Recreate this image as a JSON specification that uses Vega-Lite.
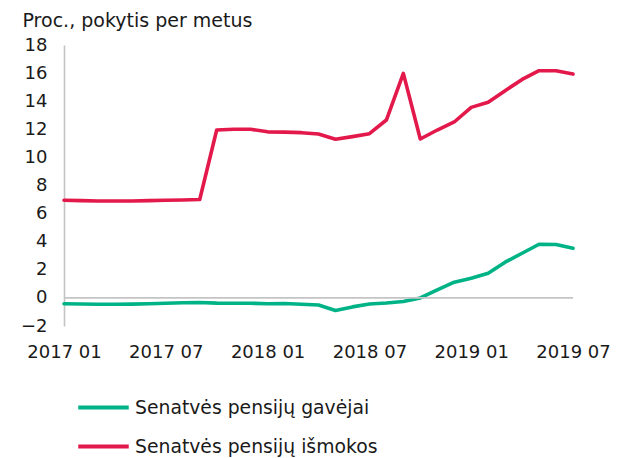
{
  "$schema": "https://vega.github.io/schema/vega-lite/v6.json",
  "width": 509,
  "height": 281,
  "autosize": {"type": "none"},
  "padding": {"left": 64, "top": 45, "right": 45, "bottom": 132},
  "background": "white",
  "config": {"view": {"stroke": null}, "font": "DejaVu Sans"},
  "datasets": {
    "series": [
      {"month": "2017-01", "series": "Senatvės pensijų gavėjai", "value": -0.42},
      {"month": "2017-02", "series": "Senatvės pensijų gavėjai", "value": -0.43},
      {"month": "2017-03", "series": "Senatvės pensijų gavėjai", "value": -0.45},
      {"month": "2017-04", "series": "Senatvės pensijų gavėjai", "value": -0.45},
      {"month": "2017-05", "series": "Senatvės pensijų gavėjai", "value": -0.44},
      {"month": "2017-06", "series": "Senatvės pensijų gavėjai", "value": -0.42},
      {"month": "2017-07", "series": "Senatvės pensijų gavėjai", "value": -0.38},
      {"month": "2017-08", "series": "Senatvės pensijų gavėjai", "value": -0.35},
      {"month": "2017-09", "series": "Senatvės pensijų gavėjai", "value": -0.33},
      {"month": "2017-10", "series": "Senatvės pensijų gavėjai", "value": -0.37},
      {"month": "2017-11", "series": "Senatvės pensijų gavėjai", "value": -0.38},
      {"month": "2017-12", "series": "Senatvės pensijų gavėjai", "value": -0.38},
      {"month": "2018-01", "series": "Senatvės pensijų gavėjai", "value": -0.42},
      {"month": "2018-02", "series": "Senatvės pensijų gavėjai", "value": -0.4},
      {"month": "2018-03", "series": "Senatvės pensijų gavėjai", "value": -0.45},
      {"month": "2018-04", "series": "Senatvės pensijų gavėjai", "value": -0.5},
      {"month": "2018-05", "series": "Senatvės pensijų gavėjai", "value": -0.9},
      {"month": "2018-06", "series": "Senatvės pensijų gavėjai", "value": -0.64},
      {"month": "2018-07", "series": "Senatvės pensijų gavėjai", "value": -0.43},
      {"month": "2018-08", "series": "Senatvės pensijų gavėjai", "value": -0.36},
      {"month": "2018-09", "series": "Senatvės pensijų gavėjai", "value": -0.26},
      {"month": "2018-10", "series": "Senatvės pensijų gavėjai", "value": 0.0},
      {"month": "2018-11", "series": "Senatvės pensijų gavėjai", "value": 0.57},
      {"month": "2018-12", "series": "Senatvės pensijų gavėjai", "value": 1.12},
      {"month": "2019-01", "series": "Senatvės pensijų gavėjai", "value": 1.4},
      {"month": "2019-02", "series": "Senatvės pensijų gavėjai", "value": 1.75},
      {"month": "2019-03", "series": "Senatvės pensijų gavėjai", "value": 2.54},
      {"month": "2019-04", "series": "Senatvės pensijų gavėjai", "value": 3.18},
      {"month": "2019-05", "series": "Senatvės pensijų gavėjai", "value": 3.82},
      {"month": "2019-06", "series": "Senatvės pensijų gavėjai", "value": 3.8},
      {"month": "2019-07", "series": "Senatvės pensijų gavėjai", "value": 3.53},
      {"month": "2017-01", "series": "Senatvės pensijų išmokos", "value": 6.95},
      {"month": "2017-02", "series": "Senatvės pensijų išmokos", "value": 6.92},
      {"month": "2017-03", "series": "Senatvės pensijų išmokos", "value": 6.9},
      {"month": "2017-04", "series": "Senatvės pensijų išmokos", "value": 6.9},
      {"month": "2017-05", "series": "Senatvės pensijų išmokos", "value": 6.9},
      {"month": "2017-06", "series": "Senatvės pensijų išmokos", "value": 6.92},
      {"month": "2017-07", "series": "Senatvės pensijų išmokos", "value": 6.95},
      {"month": "2017-08", "series": "Senatvės pensijų išmokos", "value": 6.97},
      {"month": "2017-09", "series": "Senatvės pensijų išmokos", "value": 7.0},
      {"month": "2017-10", "series": "Senatvės pensijų išmokos", "value": 11.95},
      {"month": "2017-11", "series": "Senatvės pensijų išmokos", "value": 12.0},
      {"month": "2017-12", "series": "Senatvės pensijų išmokos", "value": 12.0},
      {"month": "2018-01", "series": "Senatvės pensijų išmokos", "value": 11.82},
      {"month": "2018-02", "series": "Senatvės pensijų išmokos", "value": 11.8},
      {"month": "2018-03", "series": "Senatvės pensijų išmokos", "value": 11.76},
      {"month": "2018-04", "series": "Senatvės pensijų išmokos", "value": 11.66},
      {"month": "2018-05", "series": "Senatvės pensijų išmokos", "value": 11.29},
      {"month": "2018-06", "series": "Senatvės pensijų išmokos", "value": 11.48},
      {"month": "2018-07", "series": "Senatvės pensijų išmokos", "value": 11.69},
      {"month": "2018-08", "series": "Senatvės pensijų išmokos", "value": 12.66},
      {"month": "2018-09", "series": "Senatvės pensijų išmokos", "value": 15.98},
      {"month": "2018-10", "series": "Senatvės pensijų išmokos", "value": 11.31},
      {"month": "2018-11", "series": "Senatvės pensijų išmokos", "value": 11.95},
      {"month": "2018-12", "series": "Senatvės pensijų išmokos", "value": 12.52},
      {"month": "2019-01", "series": "Senatvės pensijų išmokos", "value": 13.56},
      {"month": "2019-02", "series": "Senatvės pensijų išmokos", "value": 13.92},
      {"month": "2019-03", "series": "Senatvės pensijų išmokos", "value": 14.75},
      {"month": "2019-04", "series": "Senatvės pensijų išmokos", "value": 15.55},
      {"month": "2019-05", "series": "Senatvės pensijų išmokos", "value": 16.17},
      {"month": "2019-06", "series": "Senatvės pensijų išmokos", "value": 16.17},
      {"month": "2019-07", "series": "Senatvės pensijų išmokos", "value": 15.93}
    ]
  },
  "layer": [
    {
      "data": {"name": "series"},
      "mark": {"type": "line", "strokeWidth": 3.6, "strokeJoin": "round", "strokeCap": "round"},
      "encoding": {
        "x": {
          "field": "month",
          "type": "ordinal",
          "scale": {"type": "point", "padding": 0},
          "sort": null,
          "axis": {
            "title": null,
            "values": ["2017-01", "2017-07", "2018-01", "2018-07", "2019-01", "2019-07"],
            "labelExpr": "replace(datum.value, '-', ' ')",
            "labelAngle": 0,
            "labelOverlap": false,
            "domain": false,
            "ticks": false,
            "labelPadding": 17,
            "labelFont": "DejaVu Sans",
            "labelFontSize": 18,
            "labelColor": "#1a1a1a"
          }
        },
        "y": {
          "field": "value",
          "type": "quantitative",
          "scale": {"domain": [-2, 18], "nice": false},
          "axis": {
            "values": [-2, 0, 2, 4, 6, 8, 10, 12, 14, 16, 18],
            "tickCount": 20,
            "labelOverlap": false,
            "grid": false,
            "ticks": false,
            "domainColor": "#c4c4c4",
            "domainWidth": 1.6,
            "labelPadding": 17,
            "labelFont": "DejaVu Sans",
            "labelFontSize": 18,
            "labelColor": "#1a1a1a",
            "title": "Proc., pokytis per metus",
            "titleAngle": 0,
            "titleAlign": "left",
            "titleBaseline": "alphabetic",
            "titleX": -42,
            "titleY": -19,
            "titleFont": "DejaVu Sans",
            "titleFontSize": 19,
            "titleFontWeight": "normal",
            "titleColor": "#1a1a1a"
          }
        },
        "color": {
          "field": "series",
          "type": "nominal",
          "scale": {
            "domain": ["Senatvės pensijų gavėjai", "Senatvės pensijų išmokos"],
            "range": ["#00b386", "#e3194b"]
          },
          "legend": {
            "title": null,
            "orient": "none",
            "legendX": 12,
            "legendY": 335,
            "direction": "vertical",
            "symbolType": "stroke",
            "symbolSize": 2550,
            "symbolStrokeWidth": 4,
            "labelFont": "DejaVu Sans",
            "labelFontSize": 18.8,
            "labelColor": "#1a1a1a",
            "labelOffset": 4,
            "rowPadding": 1,
            "labelLimit": 400
          }
        }
      }
    },
    {
      "data": {"values": [{"zero": 0}]},
      "mark": {"type": "rule", "color": "#c4c4c4", "strokeWidth": 1.6},
      "encoding": {
        "y": {"field": "zero", "type": "quantitative"}
      }
    }
  ]
}
